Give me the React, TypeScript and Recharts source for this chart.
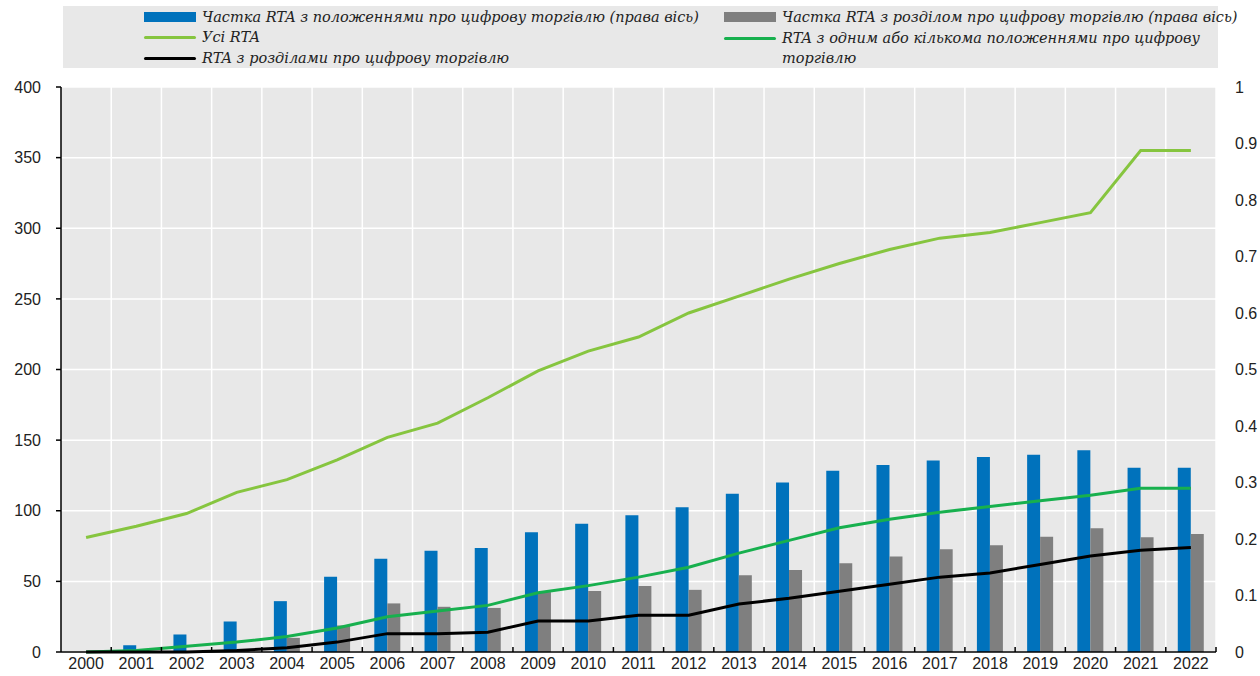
import { ComposedChart, Bar, Line, XAxis, YAxis, CartesianGrid } from "recharts"

const years = ["2000","2001","2002","2003","2004","2005","2006","2007","2008","2009","2010","2011","2012","2013","2014","2015","2016","2017","2018","2019","2020","2021","2022"]

// right axis (share)
const shareProvisions = [0, 0.012, 0.031, 0.054, 0.09, 0.133, 0.165, 0.179, 0.184, 0.212, 0.227, 0.242, 0.256, 0.28, 0.3, 0.321, 0.331, 0.339, 0.345, 0.349, 0.357, 0.326, 0.326]
const shareChapter = [0, 0, 0, 0.003, 0.025, 0.047, 0.086, 0.08, 0.078, 0.106, 0.108, 0.117, 0.11, 0.136, 0.145, 0.157, 0.169, 0.182, 0.189, 0.204, 0.219, 0.203, 0.209]

// left axis (counts)
const allRta = [81, 89, 98, 113, 122, 136, 152, 162, 180, 199, 213, 223, 240, 252, 264, 275, 285, 293, 297, 304, 311, 355, 355]
const rtaProvisions = [0, 1, 4, 7, 11, 17, 25, 29, 33, 42, 47, 53, 60, 70, 79, 88, 94, 99, 103, 107, 111, 116, 116]
const rtaChapters = [0, 0, 0, 1, 3, 7, 13, 13, 14, 22, 22, 26, 26, 34, 38, 43, 48, 53, 56, 62, 68, 72, 74]

const leftTicks = [0, 50, 100, 150, 200, 250, 300, 350, 400]
const rightTicks = [0, 0.1, 0.2, 0.3, 0.4, 0.5, 0.6, 0.7, 0.8, 0.9, 1]

const labels = {
    shareProvisions: "Частка RTA з положеннями про цифрову торгівлю (права вісь)",
    shareChapter: "Частка RTA з розділом про цифрову торгівлю (права вісь)",
    allRta: "Усі RTA",
    rtaProvisions: "RTA з одним або кількома положеннями про цифрову торгівлю",
    rtaChapters: "RTA з розділами про цифрову торгівлю",
}

const colors = {
    shareProvisions: "#0072bc",
    shareChapter: "#7f7f7f",
    allRta: "#86c53f",
    rtaProvisions: "#17b04e",
    rtaChapters: "#000000",
}

const data = years.map((y, i) => ({
    year: y,
    shareProvisions: shareProvisions[i],
    shareChapter: shareChapter[i],
    allRta: allRta[i],
    rtaProvisions: rtaProvisions[i],
    rtaChapters: rtaChapters[i],
}))

const W = 1260
const H = 676
const LEFT_W = 61
const RIGHT_W = 44
const X_H = 24
const TOP = 87
const bandWidth = (W - LEFT_W - RIGHT_W) / years.length

const axisFont = "'Liberation Sans', Arial, sans-serif"
const legendFont = "'DejaVu Serif', serif"

const XTick = (props: any) => {
    const { x, y, payload } = props
    const bx = x + bandWidth / 2
    return (
        <g>
            <line x1={bx} x2={bx} y1={y} y2={y - 5} stroke="#000" strokeWidth={1.5} />
            <text x={x} y={y + 5} dy="0.75em" textAnchor="middle" fontSize={16} fontFamily={axisFont} fill="#222">
                {payload.value}
            </text>
        </g>
    )
}

function LegendBox() {
    const swatch = (key: keyof typeof colors, kind: "bar" | "line") => (
        <div style={{
            width: 52,
            height: kind === "bar" ? 10 : 3,
            background: colors[key],
            borderRadius: kind === "line" ? 2 : 0,
        }} />
    )
    const item = (left: number, top: number, key: keyof typeof colors, kind: "bar" | "line", text: string, width?: number) => (
        <div style={{ position: "absolute", left, top, display: "flex", alignItems: "flex-start" }}>
            <div style={{ width: 58, height: 20, display: "flex", alignItems: "center" }}>{swatch(key, kind)}</div>
            <div style={{ width, lineHeight: "20px", whiteSpace: width ? "normal" : "nowrap" }}>{text}</div>
        </div>
    )
    return (
        <div style={{
            position: "absolute", left: 63, top: 6, width: 1155, height: 62,
            background: "#e8e8e8", fontFamily: legendFont, fontStyle: "italic", fontSize: 14.5, color: "#222",
        }}>
            {item(81, 1, "shareProvisions", "bar", labels.shareProvisions)}
            {item(81, 21, "allRta", "line", labels.allRta)}
            {item(81, 42, "rtaChapters", "line", labels.rtaChapters)}
            {item(661, 1, "shareChapter", "bar", labels.shareChapter)}
            {item(661, 22, "rtaProvisions", "line", labels.rtaProvisions, 420)}
        </div>
    )
}

export default function App() {
    return (
        <div style={{ position: "absolute", left: 0, top: 0, width: W, height: H, background: "#fff" }}>
            <ComposedChart
                width={W}
                height={H}
                data={data}
                margin={{ top: TOP, right: 0, bottom: 0, left: 0 }}
                barGap={0}
            >
                <CartesianGrid
                    yAxisId="left"
                    fill="#e8e8e8"
                    stroke="#ffffff"
                    strokeWidth={1.5}
                    verticalCoordinatesGenerator={({ offset }: any) =>
                        years.map((_, i) => offset.left + (i + 1) * offset.width / years.length)
                    }
                />
                <XAxis
                    dataKey="year"
                    interval={0}
                    height={X_H}
                    tickLine={false}
                    tickSize={0}
                    tickMargin={0}
                    axisLine={{ stroke: "#000", strokeWidth: 1.5 }}
                    tick={<XTick />}
                />
                <YAxis
                    yAxisId="left"
                    width={LEFT_W}
                    domain={[0, 400]}
                    ticks={leftTicks}
                    interval={0}
                    axisLine={{ stroke: "#000", strokeWidth: 1.5 }}
                    tickLine={{ stroke: "#000", strokeWidth: 1.5 }}
                    tickSize={5}
                    tickMargin={15}
                    tick={{ fontSize: 16, fontFamily: axisFont, fill: "#222" }}
                />
                <YAxis
                    yAxisId="right"
                    orientation="right"
                    width={RIGHT_W}
                    domain={[0, 1]}
                    ticks={rightTicks}
                    interval={0}
                    axisLine={false}
                    tickLine={false}
                    tickSize={0}
                    tickMargin={19}
                    tickFormatter={(v: number) => String(+v.toFixed(1))}
                    tick={{ fontSize: 16, fontFamily: axisFont, fill: "#222" }}
                />
                <Bar yAxisId="right" dataKey="shareProvisions" name={labels.shareProvisions} fill={colors.shareProvisions} barSize={13} isAnimationActive={false} />
                <Bar yAxisId="right" dataKey="shareChapter" name={labels.shareChapter} fill={colors.shareChapter} barSize={13} isAnimationActive={false} />
                <Line yAxisId="left" type="linear" dataKey="allRta" name={labels.allRta} stroke={colors.allRta} strokeWidth={3} dot={false} isAnimationActive={false} />
                <Line yAxisId="left" type="linear" dataKey="rtaProvisions" name={labels.rtaProvisions} stroke={colors.rtaProvisions} strokeWidth={3} dot={false} isAnimationActive={false} />
                <Line yAxisId="left" type="linear" dataKey="rtaChapters" name={labels.rtaChapters} stroke={colors.rtaChapters} strokeWidth={3} dot={false} isAnimationActive={false} />
            </ComposedChart>
            <LegendBox />
        </div>
    )
}
